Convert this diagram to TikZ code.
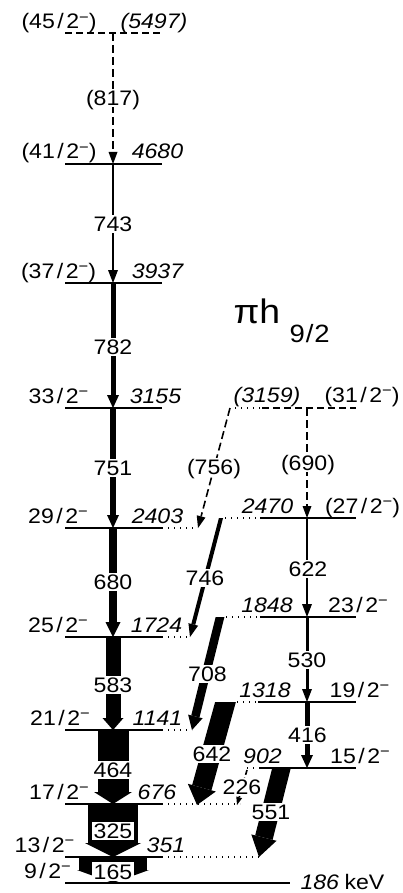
\documentclass[tikz,border=0pt]{standalone}
\usepackage{fontspec}
\setmainfont{Liberation Sans}[FakeStretch=1.1]
\usetikzlibrary{arrows.meta,calc}
\newcommand\mn{\raisebox{6.8pt}{\fontsize{15}{15}\selectfont −}}
\newcommand\slh{\kern2.5pt/\kern2.5pt}
\begin{document}
\begin{tikzpicture}[x=1pt,y=-1pt, font=\fontsize{21}{25}\selectfont,
 lvl/.style={line width=1.5pt},
 dlvl/.style={line width=1.5pt,dash pattern=on 7pt off 4pt},
 dots/.style={line width=1.4pt,dash pattern=on 1.4pt off 4.6pt},
 lab/.style={fill=white,inner sep=1.5pt,text height=15.1pt,text depth=0pt},
 elab/.style={anchor=base,font=\fontsize{21}{25}\selectfont\itshape},
 slab/.style={anchor=base},
 tr/.style n args={3}{line width=#1,-{Triangle[width=#2,length=#3,line width=0pt]}},
 dtr/.style={line width=1.6pt,dash pattern=on 8pt off 4pt},
 ]
\useasboundingbox (0,0) rectangle (402,893);
% coordinates of levels on the transition columns
\coordinate (m5497) at (113,33);
\coordinate (m4680) at (113,164);
\coordinate (m3937) at (113,283);
\coordinate (m3155) at (113,408);
\coordinate (m2403) at (113,528);
\coordinate (m1724) at (113,637);
\coordinate (m1141) at (113,730);
\coordinate (m676) at (113,804);
\coordinate (m351) at (113,857);
\coordinate (m186) at (113,883);
\coordinate (r3159) at (307,408);
\coordinate (r2470) at (307,518);
\coordinate (r1848) at (307,617);
\coordinate (r1318) at (307,702);
\coordinate (r902) at (307,768);
\coordinate (a756) at (230,408); \coordinate (b756) at (198,528);
\coordinate (a746) at (221,518); \coordinate (b746) at (190,637);
\coordinate (a708) at (220,617); \coordinate (b708) at (192,730);
\coordinate (a642) at (225.5,702); \coordinate (b642) at (197,805);
\coordinate (a226) at (247,770); \coordinate (b226) at (237,805);
\coordinate (a551) at (281.5,768); \coordinate (b551) at (259,857);
% level lines, main band
\draw[dlvl] (65,33) -- (162,33);
\foreach \y in {164,283,408,528,637,730,804,857} \draw[lvl] (65,\y) -- (162,\y);
\draw[lvl] (65,883) -- (290,883);
% level lines, right band
\draw[dots] (235,408) -- (262,408);
\draw[dlvl] (262,408) -- (356,408);
\draw[lvl] (260,518) -- (356,518);
\draw[lvl] (260,617) -- (356,617);
\draw[lvl] (258,702) -- (356,702);
\draw[lvl] (260,768) -- (356,768);
\draw[dots] (225,518) -- (260,518);
\draw[dots] (226,617) -- (260,617);
\draw[dots] (237,702) -- (258,702);
\draw[dots] (247,768) -- (260,768);
% dotted extensions, main band
\draw[dots] (162,528) -- (197,528);
\draw[dots] (162,637) -- (190,637);
\draw[dots] (162,730) -- (192,730);
\draw[dots] (162,804) -- (240,804);
\draw[dots] (162,857) -- (259,857);
% main band transitions
\draw[dtr,-{Triangle[width=9pt,length=12pt,line width=0pt]}] (m5497) -- (m4680);
\draw[tr={2pt}{10pt}{13pt}] (m4680) -- (m3937);
\draw[tr={5pt}{12pt}{13pt}] (m3937) -- (m3155);
\draw[tr={6pt}{12pt}{13pt}] (m3155) -- (m2403);
\draw[tr={8pt}{15pt}{15pt}] (m2403) -- (m1724);
\draw[tr={15pt}{21pt}{12pt}] (m1724) -- (m1141);
\draw[tr={31pt}{38pt}{12pt}] (m1141) -- (m676);
\draw[tr={50pt}{56pt}{14pt}] (m676) -- (m351);
\draw[tr={68pt}{72pt}{13pt}] (m351) -- (m186);
% right band transitions
\draw[dtr,-{Triangle[width=9pt,length=12pt,line width=0pt]}] (r3159) -- (r2470);
\draw[tr={2pt}{10pt}{13pt}] (r2470) -- (r1848);
\draw[tr={3pt}{10pt}{13pt}] (r1848) -- (r1318);
\draw[tr={5pt}{12pt}{13pt}] (r1318) -- (r902);
% linking transitions
\draw[dtr,-{Triangle[width=9pt,length=12pt,line width=0pt]}] (a756) -- (b756);
\draw[dtr,dash pattern=on 5pt off 3pt,-{Triangle[width=6pt,length=8pt,line width=0pt]}] (a226) -- (b226);
\begin{scope}\clip (0,518) rectangle (402,893);
\draw[tr={4pt}{10pt}{13pt}] ($(a746)!-6pt!(b746)$) -- (b746);
\end{scope}
\begin{scope}\clip (0,617) rectangle (402,893);
\draw[tr={8.5pt}{15pt}{14pt}] ($(a708)!-6pt!(b708)$) -- (b708);
\end{scope}
\begin{scope}\clip (0,702) rectangle (402,893);
\draw[tr={20pt}{29pt}{18pt}] ($(a642)!-8pt!(b642)$) -- (b642);
\end{scope}
\begin{scope}\clip (0,768) rectangle (402,893);
\draw[tr={18pt}{26pt}{20pt}] ($(a551)!-8pt!(b551)$) -- (b551);
\end{scope}
% transition labels
\node[lab] (l817) at (113,98) {(817)};
\node[lab] (l743) at (113,224) {743};
\node[lab] (l782) at (113,347) {782};
\node[lab] (l751) at (113,468) {751};
\node[lab] (l680) at (113,582) {680};
\node[lab] (l583) at (113,685) {583};
\node[lab] (l464) at (113,770) {464};
\node[lab] (l325) at (113,831) {325};
\node[lab] (l165) at (113,871.5) {165};
\node[lab] (l756) at (214,467) {(756)};
\node[lab] (l690) at (308,463) {(690)};
\node[lab] (l746) at (205,578) {746};
\node[lab] (l622) at (308,569) {622};
\node[lab] (l708) at (207.5,674) {708};
\node[lab] (l530) at (307,660) {530};
\node[lab] (l642) at (212,754) {642};
\node[lab] (l416) at (307.5,735) {416};
\node[lab] (l226) at (242,787) {226};
\node[lab] (l551) at (271,812) {551};
% spin labels, main band
\node[slab] (s45) at (59,29) {(45\slh 2\mn)};
\node[slab] (s41) at (59,159) {(41\slh 2\mn)};
\node[slab] (s37) at (58.5,278) {(37\slh 2\mn)};
\node[slab] (s33) at (58.5,403) {33\slh 2\mn};
\node[slab] (s29) at (58,523) {29\slh 2\mn};
\node[slab] (s25) at (58,632) {25\slh 2\mn};
\node[slab] (s21) at (60,725) {21\slh 2\mn};
\node[slab] (s17) at (59,799) {17\slh 2\mn};
\node[slab] (s13) at (44.5,852) {13\slh 2\mn};
\node[slab] (s9) at (47.5,878) {9\slh 2\mn};
% energy labels, main band
\node[elab] (e5497) at (154,29) {(5497)};
\node[elab] (e4680) at (157.5,159) {4680};
\node[elab] (e3937) at (157.5,278) {3937};
\node[elab] (e3155) at (155.5,403) {3155};
\node[elab] (e2403) at (157.5,523) {2403};
\node[elab] (e1724) at (156.5,632) {1724};
\node[elab] (e1141) at (157.5,725) {1141};
\node[elab] (e676) at (157,799) {676};
\node[elab] (e351) at (166,852) {351};
\node[elab,anchor=base west] (e186) at (297,889) {186};
\node[anchor=base west] (kev) at (341,889) {keV};
% right band labels
\node[elab] (e3159) at (267,402) {(3159)};
\node[slab] (s31) at (362,402) {(31\slh 2\mn)};
\node[elab] (e2470) at (267.5,513) {2470};
\node[slab] (s27) at (362.5,513) {(27\slh 2\mn)};
\node[elab] (e1848) at (267,612) {1848};
\node[slab] (s23) at (358,612) {23\slh 2\mn};
\node[elab] (e1318) at (265,697) {1318};
\node[slab] (s19) at (359.5,697) {19\slh 2\mn};
\node[elab] (e902) at (262.5,763) {902};
\node[slab] (s15) at (360,763) {15\slh 2\mn};
% band label
\node[anchor=base west,font=\fontsize{34}{40}\selectfont] (pih) at (230,323) {πh};
\node[anchor=base west,font=\fontsize{25}{30}\selectfont] (sub) at (286,342) {9\kern1pt/\kern1pt2};
\end{tikzpicture}
\end{document}
